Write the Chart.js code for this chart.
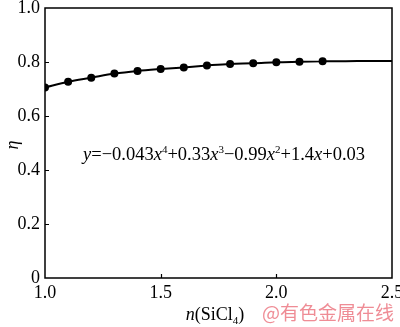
<!DOCTYPE html>
<html>
<head>
<meta charset="utf-8">
<script src="https://cdn.jsdelivr.net/npm/chart.js@4.4.1/dist/chart.umd.min.js"></script>
<style>
html,body{margin:0;padding:0;background:#fff;}
#wrap{width:400px;height:327px;position:relative;}
</style>
</head>
<body>
<div id="wrap"><canvas id="c" width="400" height="327"></canvas></div>
<script>
// Measured points: n(SiCl4) vs eta
const nSiCl4 = [1.0, 1.1, 1.2, 1.3, 1.4, 1.5, 1.6, 1.7, 1.8, 1.9, 2.0, 2.1, 2.2];
const eta = [0.706, 0.727, 0.742, 0.757, 0.767, 0.774, 0.780, 0.787, 0.793, 0.795, 0.799, 0.801, 0.803];
// Fitted curve continuation
const tailX = [2.2, 2.3, 2.4, 2.5];
const tailEta = [0.803, 0.803, 0.804, 0.804];
const xTicks = [1.0, 1.5, 2.0, 2.5];
const yTicks = [0, 0.2, 0.4, 0.6, 0.8, 1.0];
const equationParts = [
  ['y','i'],['=\u22120.043','r'],['x','i'],['4','s'],['+0.33','r'],['x','i'],['3','s'],
  ['\u22120.99','r'],['x','i'],['2','s'],['+1.4','r'],['x','i'],['+0.03','r']
];
const xTitleParts = [['n','i'],['(SiCl','r'],['4','b'],[')','r']];
const yTitle = '\u03b7';
const watermark = '@有色金属在线';

const SERIF = '"Liberation Serif", "Times New Roman", serif';

function drawParts(ctx, parts, x, y, size, align){
  const fontFor = t => t==='i' ? `italic ${size}px ${SERIF}` : (t==='s'||t==='b') ? `${Math.round(size*0.62)}px ${SERIF}` : `${size}px ${SERIF}`;
  let total = 0;
  parts.forEach(([s,t])=>{ctx.font=fontFor(t); total += ctx.measureText(s).width;});
  let cx = align==='center' ? x - total/2 : x;
  ctx.textBaseline='alphabetic'; ctx.textAlign='left';
  parts.forEach(([s,t])=>{
    ctx.font=fontFor(t);
    let dy = t==='s' ? -size*0.38 : t==='b' ? size*0.22 : 0;
    ctx.fillText(s, cx, y+dy);
    cx += ctx.measureText(s).width;
  });
}

const decor = {
  id:'decor',
  afterDraw(chart){
    const {ctx, chartArea:a, scales:{x,y}} = chart;
    ctx.save();
    ctx.strokeStyle='#000'; ctx.lineWidth=1.5;
    ctx.strokeRect(a.left, a.top, a.right-a.left, a.bottom-a.top);
    ctx.beginPath();
    [0.2,0.4,0.6,0.8].forEach(v=>{const py=Math.round(y.getPixelForValue(v))+0.5; ctx.moveTo(a.left, py); ctx.lineTo(a.left+4, py);});
    [1.5,2.0].forEach(v=>{const px=Math.round(x.getPixelForValue(v))+0.5; ctx.moveTo(px, a.bottom); ctx.lineTo(px, a.bottom-4);});
    ctx.lineWidth=1.2; ctx.stroke();
    ctx.fillStyle='#000';
    drawParts(ctx, equationParts, 83, 160, 18.5, 'left');
    drawParts(ctx, xTitleParts, 215, 320, 18, 'center');
    ctx.save();
    ctx.translate(13, 145); ctx.rotate(-Math.PI/2);
    ctx.font=`italic 18px ${SERIF}`; ctx.textAlign='center'; ctx.textBaseline='middle';
    ctx.fillText(yTitle, 0, 0);
    ctx.restore();
    ctx.font='19px "Noto Sans CJK SC", sans-serif'; ctx.fillStyle='rgba(236,120,130,0.85)';
    ctx.textAlign='left'; ctx.textBaseline='middle';
    ctx.fillText(watermark, 262, 313);
    ctx.restore();
  }
};

new Chart(document.getElementById('c'), {
  type:'scatter',
  data:{datasets:[
    {data:nSiCl4.map((v,i)=>({x:v,y:eta[i]})), showLine:true, borderColor:'#000', backgroundColor:'#000', borderWidth:2, pointRadius:3, pointHoverRadius:3, cubicInterpolationMode:'monotone'},
    {data:tailX.map((v,i)=>({x:v,y:tailEta[i]})), showLine:true, borderColor:'#000', borderWidth:2, pointRadius:0, cubicInterpolationMode:'monotone'}
  ]},
  options:{
    responsive:false, animation:false, devicePixelRatio:1,
    layout:{padding:{top:8,right:8,left:0,bottom:0}},
    plugins:{legend:{display:false}, tooltip:{enabled:false}},
    scales:{
      x:{type:'linear', min:1, max:2.5,
        afterBuildTicks(s){s.ticks = xTicks.map(v=>({value:v}));},
        afterFit(s){s.height=49; s.paddingLeft=0; s.paddingRight=0;},
        grid:{display:false, drawTicks:false}, border:{display:false},
        ticks:{padding:4, color:'#000', font:{family:SERIF,size:18}, maxRotation:0, autoSkip:false,
          callback:v=>v.toFixed(1)}},
      y:{type:'linear', min:0, max:1,
        afterBuildTicks(s){s.ticks = yTicks.map(v=>({value:v}));},
        afterFit(s){s.width=45; s.paddingTop=0; s.paddingBottom=0;},
        grid:{display:false, drawTicks:false}, border:{display:false},
        ticks:{padding:5, color:'#000', font:{family:SERIF,size:18}, autoSkip:false,
          callback:v=> v===0 ? '0' : v.toFixed(1)}}
    }
  },
  plugins:[decor]
});
</script>
</body>
</html>
